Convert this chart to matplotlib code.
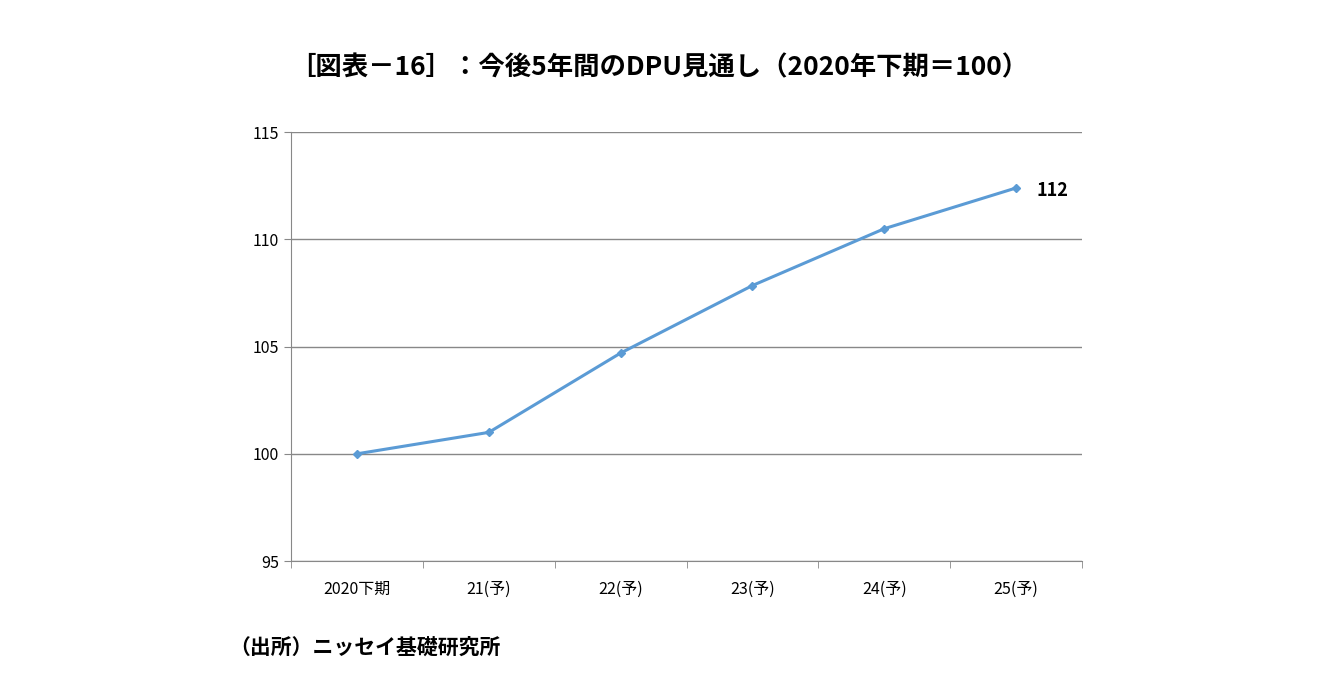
import matplotlib
matplotlib.use("Agg")
import matplotlib.pyplot as plt
import numpy as np

plt.rcParams["font.family"] = ["Noto Sans CJK JP", "DejaVu Sans"]

categories = ["2020下期", "21(予)", "22(予)", "23(予)", "24(予)", "25(予)"]
dpu = [100.0, 101.0, 104.7, 107.85, 110.5, 112.4]
yticks = [95, 100, 105, 110, 115]

fig = plt.figure(figsize=(13.17, 6.85), dpi=100)
ax = fig.add_axes([0.221, 0.181, 0.6006, 0.626])

x = np.arange(len(categories))
ax.plot(x, dpu, color="#5b9bd5", linewidth=2.2, marker="D", markersize=4.5)
ax.annotate("112", (x[-1], dpu[-1]), xytext=(15, -2), textcoords="offset points",
            fontsize=13, fontweight="bold", va="center")

ax.set_xlim(-0.5, len(categories) - 0.5)
ax.set_ylim(95, 115)
ax.set_yticks(yticks)
ax.set_xticks(x)
ax.set_xticklabels(categories, fontsize=11.5)
ax.set_xticks(np.arange(-0.5, len(categories)), minor=True)
ax.tick_params(axis="x", which="major", length=0, pad=14)
ax.tick_params(axis="x", which="minor", length=5, color="#888888")
ax.tick_params(axis="y", labelsize=11.5, length=5, color="#888888")
ax.grid(axis="y", color="#888888", linewidth=1)
for s in ["top", "right"]:
    ax.spines[s].set_visible(False)
for s in ["left", "bottom"]:
    ax.spines[s].set_color("#888888")

fig.text(0.5, 0.89, "［図表－16］：今後5年間のDPU見通し（2020年下期＝100）",
         ha="center", fontsize=19, fontweight="bold")
fig.text(0.174, 0.045, "（出所）ニッセイ基礎研究所", ha="left", fontsize=15, fontweight="bold")

fig.savefig("out.png", dpi=100)
